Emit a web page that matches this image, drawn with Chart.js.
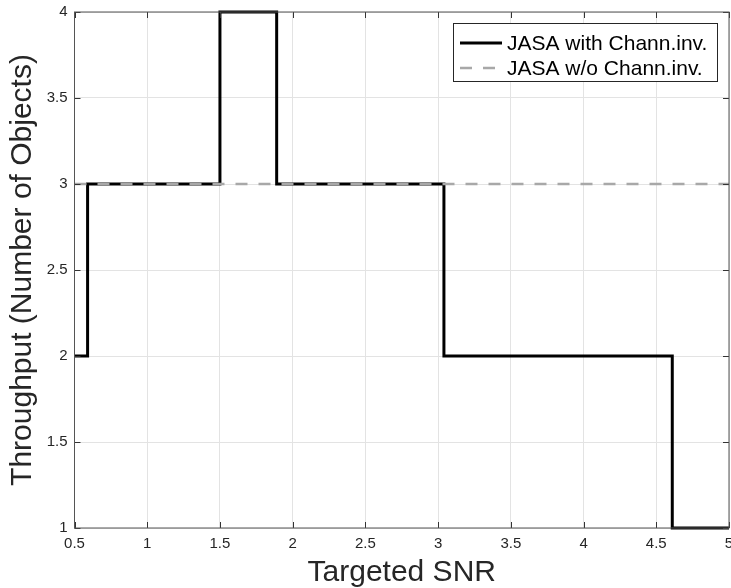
<!DOCTYPE html>
<html lang="en">
<head>
  <meta charset="UTF-8" />
  <title>Throughput vs Targeted SNR</title>
  <script src="https://cdn.jsdelivr.net/npm/chart.js"></script>
  <style>
    html, body { margin: 0; padding: 0; background: #fff; }
    .chart-wrapper { width: 731px; height: 588px; }
  </style>
</head>
<body>
<div class="chart-wrapper">
  <canvas id="snrChart"></canvas>
</div>

<script>
  // step points (value holds from the previous break up to this x)
  const withInvX = [0.5, 0.59, 1.5, 1.89, 3.04, 4.61, 5];
  const withInvY = [2, 3, 4, 3, 2, 1, 1];
  const withoutInvX = [0.5, 5];
  const withoutInvY = [3, 3];

  const xTicks = [0.5, 1, 1.5, 2, 2.5, 3, 3.5, 4, 4.5, 5];
  const yTicks = [1, 1.5, 2, 2.5, 3, 3.5, 4];

  const seriesLabels = ['JASA with Chann.inv.', 'JASA w/o Chann.inv.'];

  const FONT = "'Liberation Sans', Arial, Helvetica, sans-serif";
  const TXT = '#262626';

  const toPoints = (xs, ys) => xs.map((x, i) => ({ x, y: ys[i] }));

  // box, inward ticks and legend, like the MATLAB figure
  const matlabAxes = {
    id: 'matlabAxes',
    afterDatasetsDraw(chart) {
      const { ctx, chartArea: a, scales } = chart;
      ctx.save();
      ctx.strokeStyle = '#333';
      ctx.lineWidth = 1;
      const tl = 6;
      ctx.beginPath();
      xTicks.forEach(v => {
        const px = Math.round(scales.x.getPixelForValue(v)) + 0.5;
        ctx.moveTo(px, a.bottom); ctx.lineTo(px, a.bottom - tl);
        ctx.moveTo(px, a.top); ctx.lineTo(px, a.top + tl);
      });
      yTicks.forEach(v => {
        const py = Math.round(scales.y.getPixelForValue(v)) + 0.5;
        ctx.moveTo(a.left, py); ctx.lineTo(a.left + tl, py);
        ctx.moveTo(a.right, py); ctx.lineTo(a.right - tl, py);
      });
      ctx.stroke();
      ctx.strokeStyle = '#555';
      ctx.strokeRect(a.left, a.top, a.right - a.left, a.bottom - a.top);

      // legend
      const w = 264, h = 58;
      const lx = a.right - 12 - w, ly = a.top + 11;
      ctx.fillStyle = '#fff';
      ctx.fillRect(lx, ly, w, h);
      ctx.strokeStyle = '#262626';
      ctx.lineWidth = 1;
      ctx.strokeRect(lx + 0.5, ly + 0.5, w, h);
      ctx.font = '21px ' + FONT;
      ctx.textBaseline = 'middle';
      ctx.textAlign = 'left';
      chart.data.datasets.forEach((ds, i) => {
        const ry = ly + 20 + i * 25;
        ctx.strokeStyle = ds.borderColor;
        ctx.lineWidth = ds.borderWidth;
        ctx.setLineDash(ds.borderDash || []);
        ctx.beginPath();
        ctx.moveTo(lx + 7, ry);
        ctx.lineTo(lx + 49, ry);
        ctx.stroke();
        ctx.setLineDash([]);
        ctx.fillStyle = '#000';
        ctx.fillText(ds.label, lx + 54, ry + 1);
      });
      ctx.restore();
    }
  };

  new Chart(document.getElementById('snrChart'), {
    type: 'line',
    data: {
      datasets: [
        {
          label: seriesLabels[0],
          data: toPoints(withInvX, withInvY),
          stepped: 'before',
          borderColor: '#000',
          borderWidth: 3,
          pointRadius: 0,
          fill: false,
          clip: 4,
          order: 1
        },
        {
          label: seriesLabels[1],
          data: toPoints(withoutInvX, withoutInvY),
          borderColor: '#a8a8a8',
          borderWidth: 2.5,
          borderDash: [12, 11],
          pointRadius: 0,
          fill: false,
          clip: 4,
          order: 0
        }
      ]
    },
    options: {
      responsive: true,
      maintainAspectRatio: false,
      animation: false,
      layout: { padding: { top: 12, right: 2, left: 0, bottom: 0 } },
      plugins: {
        legend: { display: false },
        tooltip: { enabled: false }
      },
      scales: {
        x: {
          type: 'linear',
          min: 0.5,
          max: 5,
          afterBuildTicks: s => { s.ticks = xTicks.map(v => ({ value: v })); },
          afterFit: s => { s.height = 60; s.paddingLeft = 0; s.paddingRight = 0; },
          grid: { color: '#e3e3e3', drawTicks: false },
          border: { display: false },
          ticks: {
            autoSkip: false,
            maxRotation: 0,
            padding: 7,
            color: TXT,
            font: { family: FONT, size: 15 },
            callback: v => String(v)
          },
          title: {
            display: true,
            text: 'Targeted SNR',
            color: TXT,
            font: { family: FONT, size: 30, lineHeight: 1 },
            padding: { top: 0, bottom: 0 }
          }
        },
        y: {
          min: 1,
          max: 4,
          afterBuildTicks: s => { s.ticks = yTicks.map(v => ({ value: v })); },
          afterFit: s => { s.width = 74.5; s.paddingTop = 0; s.paddingBottom = 0; },
          grid: { color: '#e3e3e3', drawTicks: false },
          border: { display: false },
          ticks: {
            padding: 7,
            color: TXT,
            font: { family: FONT, size: 15 },
            callback: v => String(v)
          },
          title: {
            display: true,
            text: 'Throughput (Number of Objects)',
            color: TXT,
            font: { family: FONT, size: 30, lineHeight: 1 },
            padding: { top: 8, bottom: 0 }
          }
        }
      }
    },
    plugins: [matlabAxes]
  });
</script>
</body>
</html>
